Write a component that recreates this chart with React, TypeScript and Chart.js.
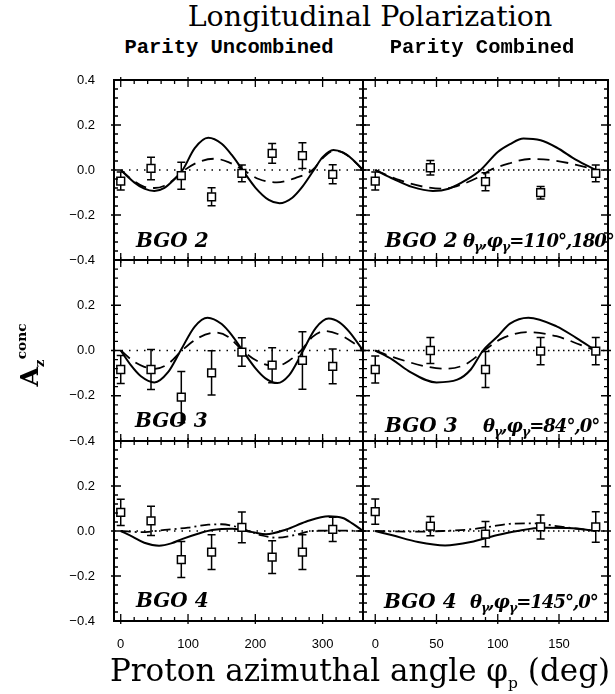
import React, { useEffect, useRef } from "react";
import { Chart, registerables } from "chart.js";
Chart.register(...registerables);

// ---------- data ----------
const PHI_UNCOMBINED = [0, 45, 90, 135, 180, 225, 270, 315];
const PHI_COMBINED = [0, 45, 90, 135, 180];

const LEFT_X_TICKS = [0, 100, 200, 300];
const RIGHT_X_TICKS = [0, 50, 100, 150];
const Y_TICKS = [-0.4, -0.2, 0, 0.2, 0.4];

// BGO 2, parity uncombined
const bgo2UncVal = [-0.049, 0.007, -0.025, -0.119, -0.015, 0.074, 0.064, -0.019];
const bgo2UncErr = [0.04, 0.05, 0.06, 0.04, 0.037, 0.044, 0.057, 0.042];
const bgo2UncSolidX = [0, 20, 35, 50, 65, 80, 92, 110, 130, 150, 165, 181, 200, 220, 236, 255, 270, 287, 300, 316, 330, 345, 360];
const bgo2UncSolidY = [0, -0.055, -0.083, -0.093, -0.079, -0.04, 0, 0.097, 0.143, 0.117, 0.067, 0, -0.078, -0.133, -0.148, -0.123, -0.074, 0, 0.057, 0.089, 0.078, 0.046, 0];
const bgo2UncDashX = [0, 20, 35, 50, 65, 80, 95, 115, 140, 160, 182, 205, 232, 260, 285, 300, 316, 330, 345, 360];
const bgo2UncDashY = [0, -0.05, -0.075, -0.08, -0.07, -0.04, 0, 0.035, 0.05, 0.035, 0, -0.04, -0.055, -0.035, 0, 0.052, 0.085, 0.077, 0.045, 0];

// BGO 2, parity combined
const bgo2ComVal = [-0.049, 0.01, -0.052, -0.101, -0.015];
const bgo2ComErr = [0.04, 0.032, 0.04, 0.028, 0.037];
const bgo2ComSolidX = [0, 15, 30, 47, 60, 75, 86, 100, 110, 121, 135, 148, 164, 180];
const bgo2ComSolidY = [0, -0.04, -0.075, -0.093, -0.083, -0.042, 0, 0.08, 0.115, 0.14, 0.132, 0.1, 0.045, 0];
const bgo2ComDashX = [0, 20, 40, 55, 70, 85, 94, 110, 126, 145, 165, 180];
const bgo2ComDashY = [0, -0.045, -0.075, -0.083, -0.065, -0.03, 0, 0.03, 0.049, 0.043, 0.022, 0];

// BGO 3, parity uncombined
const bgo3UncVal = [-0.084, -0.084, -0.206, -0.099, -0.007, -0.065, -0.044, -0.07];
const bgo3UncErr = [0.062, 0.088, 0.113, 0.098, 0.063, 0.077, 0.127, 0.077];
const bgo3UncSolidX = [0, 15, 30, 50, 70, 89, 110, 129, 150, 165, 181, 200, 215, 233, 250, 262, 271, 290, 309, 325, 340, 360];
const bgo3UncSolidY = [0, -0.065, -0.114, -0.141, -0.097, 0, 0.106, 0.145, 0.117, 0.068, 0, -0.078, -0.123, -0.144, -0.11, -0.052, 0, 0.1, 0.141, 0.124, 0.081, 0];
const bgo3UncDashX = [0, 20, 35, 51, 70, 91, 115, 141, 160, 181, 205, 231, 250, 268, 285, 304, 325, 345, 360];
const bgo3UncDashY = [0, -0.05, -0.072, -0.081, -0.06, 0, 0.055, 0.079, 0.06, 0, -0.05, -0.07, -0.045, 0, 0.06, 0.086, 0.07, 0.035, 0];

// BGO 3, parity combined
const bgo3ComVal = [-0.084, 0.0, -0.084, -0.003, -0.003];
const bgo3ComErr = [0.06, 0.057, 0.08, 0.06, 0.06];
const bgo3ComSolidX = [0, 14, 27, 50, 67, 78, 88, 100, 110, 125, 148, 164, 180];
const bgo3ComSolidY = [0, -0.04, -0.09, -0.141, -0.129, -0.084, 0, 0.063, 0.119, 0.145, 0.107, 0.056, 0];
const bgo3ComDashX = [0, 14, 41, 57, 73, 89, 102, 124, 148, 167, 180];
const bgo3ComDashY = [0, -0.028, -0.07, -0.081, -0.063, 0, 0.049, 0.081, 0.063, 0.026, 0];

// BGO 4, parity uncombined
const bgo4UncVal = [0.083, 0.045, -0.127, -0.094, 0.016, -0.116, -0.094, 0.007];
const bgo4UncErr = [0.058, 0.065, 0.08, 0.077, 0.068, 0.073, 0.077, 0.054];
const bgo4UncSolidX = [0, 18, 35, 57, 75, 92, 116, 136, 166, 196, 216, 246, 275, 309, 330, 344, 360];
const bgo4UncSolidY = [0, -0.026, -0.052, -0.065, -0.055, -0.035, -0.011, 0.004, 0.01, -0.005, -0.014, 0.007, 0.041, 0.066, 0.058, 0.034, 0];
const bgo4UncDashX = [0, 30, 70, 100, 130, 150, 170, 190, 210, 232, 255, 285, 320, 360];
const bgo4UncDashY = [0, -0.005, 0.006, 0.015, 0.028, 0.03, 0.02, 0, -0.02, -0.03, -0.02, 0, 0.002, 0];

// BGO 4, parity combined
const bgo4ComVal = [0.086, 0.022, -0.014, 0.018, 0.018];
const bgo4ComErr = [0.056, 0.043, 0.056, 0.053, 0.068];
const bgo4ComSolidX = [0, 14, 35, 57, 78, 99, 116, 137, 161, 180];
const bgo4ComSolidY = [0, -0.019, -0.049, -0.064, -0.049, -0.019, 0, 0.014, 0.012, 0];
const bgo4ComDashX = [0, 30, 55, 75, 95, 110, 130, 148, 165, 180];
const bgo4ComDashY = [0, -0.003, 0, 0.006, 0.02, 0.032, 0.034, 0.022, 0.01, 0];

// ---------- layout ----------
const COLS = [
  { x0: 114, x1: 363, min: -10, max: 360, ticks: LEFT_X_TICKS, minor: 20, dot: [1.5, 6] },
  { x0: 363, x1: 613, min: -10, max: 190, ticks: RIGHT_X_TICKS, minor: 10, dot: [1.5, 3.5] },
];
const ROWS = [
  { y0: 80, y1: 260 },
  { y0: 260, y1: 441 },
  { y0: 441, y1: 621 },
];

const LONG_DASH = [12, 7];
const DASH_DOT = [10, 4, 2, 4];

type Curve = { x: number[]; y: number[] };
type PanelDef = {
  col: number;
  row: number;
  phi: number[];
  val: number[];
  err: number[];
  solid: Curve;
  dashed: Curve;
  dash: number[];
};

const PANELS: PanelDef[] = [
  { col: 0, row: 0, phi: PHI_UNCOMBINED, val: bgo2UncVal, err: bgo2UncErr, solid: { x: bgo2UncSolidX, y: bgo2UncSolidY }, dashed: { x: bgo2UncDashX, y: bgo2UncDashY }, dash: LONG_DASH },
  { col: 1, row: 0, phi: PHI_COMBINED, val: bgo2ComVal, err: bgo2ComErr, solid: { x: bgo2ComSolidX, y: bgo2ComSolidY }, dashed: { x: bgo2ComDashX, y: bgo2ComDashY }, dash: LONG_DASH },
  { col: 0, row: 1, phi: PHI_UNCOMBINED, val: bgo3UncVal, err: bgo3UncErr, solid: { x: bgo3UncSolidX, y: bgo3UncSolidY }, dashed: { x: bgo3UncDashX, y: bgo3UncDashY }, dash: LONG_DASH },
  { col: 1, row: 1, phi: PHI_COMBINED, val: bgo3ComVal, err: bgo3ComErr, solid: { x: bgo3ComSolidX, y: bgo3ComSolidY }, dashed: { x: bgo3ComDashX, y: bgo3ComDashY }, dash: LONG_DASH },
  { col: 0, row: 2, phi: PHI_UNCOMBINED, val: bgo4UncVal, err: bgo4UncErr, solid: { x: bgo4UncSolidX, y: bgo4UncSolidY }, dashed: { x: bgo4UncDashX, y: bgo4UncDashY }, dash: DASH_DOT },
  { col: 1, row: 2, phi: PHI_COMBINED, val: bgo4ComVal, err: bgo4ComErr, solid: { x: bgo4ComSolidX, y: bgo4ComSolidY }, dashed: { x: bgo4ComDashX, y: bgo4ComDashY }, dash: DASH_DOT },
];

const fmtY = (v: number) => {
  const s = Math.abs(v).toFixed(1);
  return v < -1e-9 ? "\u2212" + s : s;
};

function framePlugin(majorX: number[], minorStep: number) {
  return {
    id: "frameTicks",
    afterDatasetsDraw(chart: any) {
      const { ctx, chartArea: a, scales } = chart;
      const xs = scales.x;
      const ys = scales.y;
      ctx.save();
      ctx.strokeStyle = "#000";
      ctx.lineWidth = 1.3;
      ctx.beginPath();
      const n0 = Math.ceil(xs.min / minorStep);
      const n1 = Math.floor(xs.max / minorStep);
      for (let i = n0; i <= n1; i++) {
        const v = i * minorStep;
        const px = xs.getPixelForValue(v);
        if (px <= a.left + 1 || px >= a.right - 1) continue;
        const major = majorX.includes(v);
        const inL = major ? 7 : 4;
        const outL = major ? 3 : 0;
        ctx.moveTo(px, a.bottom + outL);
        ctx.lineTo(px, a.bottom - inL);
        ctx.moveTo(px, a.top - outL);
        ctx.lineTo(px, a.top + inL);
      }
      for (let i = -10; i <= 10; i++) {
        const v = i * 0.04;
        const py = ys.getPixelForValue(v);
        if (py <= a.top + 1 || py >= a.bottom - 1) continue;
        const major = i % 5 === 0;
        const inL = major ? 7 : 4;
        const outL = major ? 3 : 0;
        ctx.moveTo(a.left - outL, py);
        ctx.lineTo(a.left + inL, py);
        ctx.moveTo(a.right + outL, py);
        ctx.lineTo(a.right - inL, py);
      }
      ctx.stroke();
      ctx.lineWidth = 2;
      ctx.strokeRect(a.left, a.top, a.right - a.left, a.bottom - a.top);
      ctx.restore();
    },
  };
}

function errorBarPlugin(phi: number[], val: number[], err: number[]) {
  return {
    id: "errorBars",
    beforeDatasetsDraw(chart: any) {
      const { ctx, scales } = chart;
      const xs = scales.x;
      const ys = scales.y;
      ctx.save();
      ctx.strokeStyle = "#000";
      ctx.lineWidth = 1.5;
      ctx.beginPath();
      phi.forEach((p, i) => {
        const px = xs.getPixelForValue(p);
        const top = ys.getPixelForValue(val[i] + err[i]);
        const bot = ys.getPixelForValue(val[i] - err[i]);
        ctx.moveTo(px, top);
        ctx.lineTo(px, bot);
        ctx.moveTo(px - 4, top);
        ctx.lineTo(px + 4, top);
        ctx.moveTo(px - 4, bot);
        ctx.lineTo(px + 4, bot);
      });
      ctx.stroke();
      ctx.restore();
    },
  };
}

function Panel({ def }: { def: PanelDef }) {
  const ref = useRef<HTMLCanvasElement>(null);
  const col = COLS[def.col];
  const row = ROWS[def.row];
  const showY = def.col === 0;
  const showX = def.row === 2;
  const padL = showY ? 62 : 10;
  const padR = def.col === 1 ? 2 : 10;
  const padT = 12;
  const padB = showX ? 45 : 12;
  const w = col.x1 - col.x0 + padL + padR;
  const h = row.y1 - row.y0 + padT + padB;

  useEffect(() => {
    const toPts = (xs: number[], ys: number[]) => xs.map((x, i) => ({ x, y: ys[i] }));
    const chart = new Chart(ref.current as HTMLCanvasElement, {
      type: "scatter",
      data: {
        datasets: [
          {
            data: toPts(def.phi, def.val),
            pointStyle: "rect",
            pointRadius: 5.5,
            pointBackgroundColor: "#fff",
            pointBorderColor: "#000",
            pointBorderWidth: 1.5,
            showLine: false,
            clip: false,
          } as any,
          {
            data: toPts(def.solid.x, def.solid.y),
            showLine: true,
            pointRadius: 0,
            borderColor: "#000",
            borderWidth: 2,
            cubicInterpolationMode: "monotone",
          },
          {
            data: toPts(def.dashed.x, def.dashed.y),
            showLine: true,
            pointRadius: 0,
            borderColor: "#000",
            borderWidth: 1.8,
            borderDash: def.dash,
            cubicInterpolationMode: "monotone",
          },
          {
            data: [
              { x: col.min, y: 0 },
              { x: col.max, y: 0 },
            ],
            showLine: true,
            pointRadius: 0,
            borderColor: "#000",
            borderWidth: 1.6,
            borderDash: col.dot,
          },
        ],
      },
      options: {
        responsive: false,
        animation: false,
        devicePixelRatio: 1,
        events: [],
        layout: {
          padding: {
            left: showY ? 0 : padL,
            right: padR,
            top: padT,
            bottom: showX ? 0 : padB,
          },
        },
        plugins: { legend: { display: false }, tooltip: { enabled: false }, title: { display: false } },
        scales: {
          x: {
            type: "linear",
            min: col.min,
            max: col.max,
            display: showX,
            grid: { display: false, drawTicks: false },
            border: { display: false },
            ticks: {
              padding: 16,
              color: "#000",
              autoSkip: false,
              maxRotation: 0,
              font: { family: "Liberation Sans", size: 13 },
              callback: (v: any) => String(v),
            },
            afterBuildTicks: (s: any) => {
              s.ticks = col.ticks.map((v) => ({ value: v }));
            },
            afterFit: (s: any) => {
              if (showX) s.height = padB;
              s.paddingLeft = 0;
              s.paddingRight = 0;
              s.paddingTop = 0;
              s.paddingBottom = 0;
            },
          },
          y: {
            type: "linear",
            min: -0.4,
            max: 0.4,
            display: showY,
            grid: { display: false, drawTicks: false },
            border: { display: false },
            ticks: {
              padding: 19,
              color: "#000",
              autoSkip: false,
              font: { family: "Liberation Sans", size: 13 },
              callback: (v: any) => (def.row > 0 && v > 0.3 ? "" : fmtY(Number(v))),
            },
            afterBuildTicks: (s: any) => {
              s.ticks = Y_TICKS.map((v) => ({ value: v }));
            },
            afterFit: (s: any) => {
              if (showY) s.width = padL;
              s.paddingLeft = 0;
              s.paddingRight = 0;
              s.paddingTop = 0;
              s.paddingBottom = 0;
            },
          },
        },
      } as any,
      plugins: [errorBarPlugin(def.phi, def.val, def.err), framePlugin(col.ticks, col.minor)],
    });
    return () => chart.destroy();
  }, []);

  return (
    <canvas
      ref={ref}
      width={w}
      height={h}
      style={{ position: "absolute", left: col.x0 - padL, top: row.y0 - padT, width: w, height: h }}
    />
  );
}

const labelFont: React.CSSProperties = {
  position: "absolute",
  fontFamily: "'DejaVu Serif', serif",
  fontWeight: "bold",
  fontStyle: "italic",
  fontSize: 20,
  lineHeight: "20px",
  whiteSpace: "nowrap",
  color: "#000",
};
const angleFont: React.CSSProperties = {
  ...labelFont,
  fontSize: 18,
  letterSpacing: -1,
};
const subG: React.CSSProperties = { fontSize: "0.7em", verticalAlign: "-0.35em", fontStyle: "italic" };

function Angle({ left, top, theta, phi }: { left: number; top: number; theta: string; phi: string }) {
  return (
    <div style={{ ...angleFont, left, top }}>
      θ<span style={subG}>γ</span>,φ<span style={subG}>γ</span>={theta}°,{phi}°
    </div>
  );
}

export default function App() {
  return (
    <div style={{ position: "absolute", left: 0, top: 0, width: 615, height: 694, background: "#fff", overflow: "hidden" }}>
      {PANELS.map((p, i) => (
        <Panel key={i} def={p} />
      ))}
      <div
        style={{
          position: "absolute",
          left: 370,
          top: 16,
          transform: "translate(-50%, -50%)",
          fontFamily: "'DejaVu Serif', serif",
          fontSize: 28.5,
          whiteSpace: "nowrap",
        }}
      >
        Longitudinal Polarization
      </div>
      <div
        style={{
          position: "absolute",
          left: 229,
          top: 47,
          transform: "translate(-50%, -50%)",
          fontFamily: "'Liberation Mono', monospace",
          fontWeight: "bold",
          fontSize: 20.5,
          whiteSpace: "nowrap",
        }}
      >
        Parity Uncombined
      </div>
      <div
        style={{
          position: "absolute",
          left: 482,
          top: 47,
          transform: "translate(-50%, -50%)",
          fontFamily: "'Liberation Mono', monospace",
          fontWeight: "bold",
          fontSize: 20.5,
          whiteSpace: "nowrap",
        }}
      >
        Parity Combined
      </div>
      <div
        style={{
          position: "absolute",
          left: 360,
          top: 672,
          transform: "translate(-50%, -50%)",
          fontFamily: "'DejaVu Serif', serif",
          fontSize: 31,
          whiteSpace: "nowrap",
        }}
      >
        Proton azimuthal angle φ<span style={{ fontSize: "0.5em", verticalAlign: "-0.5em" }}>p</span> (deg)
      </div>
      <div
        style={{
          position: "absolute",
          left: 30,
          top: 355,
          transform: "translate(-50%, -50%) rotate(-90deg)",
          fontFamily: "'DejaVu Serif', serif",
          fontWeight: "bold",
          fontSize: 25,
          whiteSpace: "nowrap",
        }}
      >
        A<span style={{ fontSize: "0.55em", verticalAlign: "-0.45em" }}>z</span>
        <span style={{ fontSize: "0.55em", verticalAlign: "0.9em" }}>conc</span>
      </div>

      <div style={{ ...labelFont, left: 136, top: 230 }}>BGO 2</div>
      <div style={{ ...labelFont, left: 385, top: 230 }}>BGO 2</div>
      <Angle left={463} top={231} theta="110" phi="180" />

      <div style={{ ...labelFont, left: 135, top: 410 }}>BGO 3</div>
      <div style={{ ...labelFont, left: 385, top: 415 }}>BGO 3</div>
      <Angle left={483} top={416} theta="84" phi="0" />

      <div style={{ ...labelFont, left: 136, top: 590 }}>BGO 4</div>
      <div style={{ ...labelFont, left: 384, top: 591 }}>BGO 4</div>
      <Angle left={470} top={592} theta="145" phi="0" />
    </div>
  );
}
